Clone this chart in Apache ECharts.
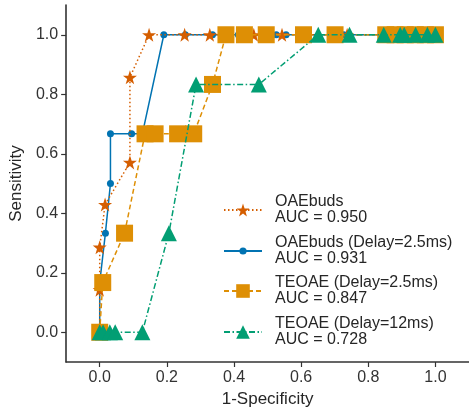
<!DOCTYPE html>
<html><head><meta charset="utf-8">
<script src="https://cdn.jsdelivr.net/npm/echarts@6/dist/echarts.min.js"></script>
<style>html,body{margin:0;padding:0;background:#fff}#c{width:469px;height:413px}</style>
</head><body><div id="c"></div>
<script>
const tickValues = [0, 0.2, 0.4, 0.6, 0.8, 1.0];
const seriesNames = ['OAEbuds', 'OAEbuds (Delay=2.5ms)', 'TEOAE (Delay=2.5ms)', 'TEOAE (Delay=12ms)'];
const aucLabels = ['AUC = 0.950', 'AUC = 0.931', 'AUC = 0.847', 'AUC = 0.728'];

const oaeX = [0, 0, 0, 0.016, 0.09, 0.09, 0.147, 0.253, 0.328, 0.459, 0.543, 0.737, 1.0];
const oaeY = [0, 0.143, 0.286, 0.429, 0.571, 0.857, 1, 1, 1, 1, 1, 1, 1];

const oaeDX = [0, 0, 0.017, 0.032, 0.032, 0.095, 0.127, 0.191, 0.255, 0.336, 0.413, 0.526, 0.555, 0.727, 1.0];
const oaeDY = [0, 0.167, 0.333, 0.5, 0.667, 0.667, 0.667, 1, 1, 1, 1, 1, 1, 1, 1];

const teX = [0, 0.009, 0.074, 0.135, 0.165, 0.232, 0.28, 0.336, 0.376, 0.431, 0.496, 0.607, 0.701, 0.852, 0.88, 0.91, 0.94, 0.97, 1.0];
const teY = [0, 0.167, 0.333, 0.667, 0.667, 0.667, 0.667, 0.833, 1, 1, 1, 1, 1, 1, 1, 1, 1, 1, 1];

const te12X = [0, 0.01, 0.03, 0.046, 0.127, 0.206, 0.287, 0.474, 0.651, 0.744, 0.846, 0.895, 0.907, 0.941, 0.976, 1.0];
const te12Y = [0, 0, 0, 0, 0, 0.333, 0.833, 0.833, 1, 1, 1, 1, 1, 1, 1, 1];

const pair = (xs, ys) => xs.map((x, i) => [x, ys[i]]);
const STAR = 'path://M50,0 L61.8,35.4 L98.1,35.4 L68.8,57.3 L79.4,91.9 L50,70.5 L20.6,91.9 L31.2,57.3 L1.9,35.4 L38.2,35.4 Z';
const C = {star: '#d55e00', blue: '#0173b2', orange: '#de8f05', green: '#029e73'};
const FONT = 'Liberation Sans, Arial, sans-serif';

const chart = echarts.init(document.getElementById('c'), null, {renderer: 'canvas'});

function axisCommon(name) {
  return {
    type: 'value', min: -0.1, max: 1.1,
    name: name, nameLocation: 'middle',
    nameTextStyle: {fontSize: 17, color: '#262626', fontFamily: FONT},
    axisLine: {show: true, onZero: false, lineStyle: {color: '#333', width: 1.6}},
    axisTick: {show: true, length: 5, lineStyle: {color: '#333', width: 1.2}, customValues: tickValues},
    axisLabel: {fontSize: 16, color: '#333', fontFamily: FONT, margin: 8, customValues: tickValues,
      formatter: v => v.toFixed(1)},
    splitLine: {show: false}
  };
}

const xAxis = axisCommon('1-Specificity'); xAxis.nameGap = 26;
const yAxis = axisCommon('Sensitivity'); yAxis.nameGap = 38;

function legendFor(i, top, h) {
  return {
    show: true, orient: 'vertical', left: 218, top: top,
    data: [seriesNames[i]], itemWidth: 38, itemHeight: h,
    formatter: n => n + '\n' + aucLabels[i],
    textStyle: {fontSize: 16, lineHeight: 16, color: '#262626', fontFamily: FONT, padding: [0, 0, 0, 8]}
  };
}

chart.setOption({
  animation: false,
  backgroundColor: '#fff',
  grid: {left: 62, right: 0, top: 5, bottom: 51, containLabel: false},
  xAxis: xAxis,
  yAxis: yAxis,
  legend: [legendFor(0, 189, 16), legendFor(1, 230, 9), legendFor(2, 270, 17), legendFor(3, 311, 17)],
  series: [
    {name: seriesNames[1], type: 'line', data: pair(oaeDX, oaeDY), symbol: 'circle', symbolSize: 7,
      itemStyle: {color: C.blue}, lineStyle: {color: C.blue, width: 1.5, type: 'solid'}, z: 2},
    {name: seriesNames[0], type: 'line', data: pair(oaeX, oaeY), symbol: STAR, symbolSize: 14,
      itemStyle: {color: C.star}, lineStyle: {color: C.star, width: 1.5, type: [1.5, 2.5]}, z: 3},
    {name: seriesNames[2], type: 'line', data: pair(teX, teY), symbol: 'rect', symbolSize: 17,
      itemStyle: {color: C.orange}, lineStyle: {color: C.orange, width: 1.5, type: [5, 3]}, z: 4},
    {name: seriesNames[3], type: 'line', data: pair(te12X, te12Y), symbol: 'triangle', symbolSize: 16,
      itemStyle: {color: C.green}, lineStyle: {color: C.green, width: 1.5, type: [6, 2.5, 1.5, 2.5]}, z: 5}
  ]
});
</script></body></html>
